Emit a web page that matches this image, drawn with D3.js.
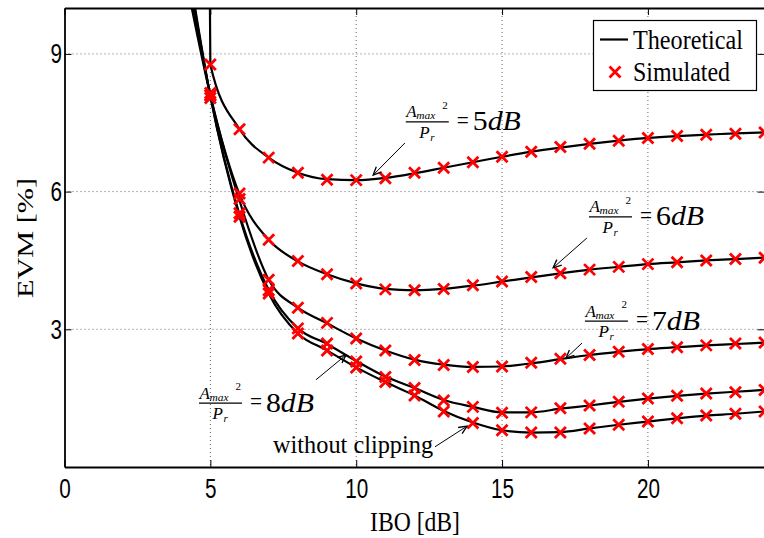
<!DOCTYPE html>
<html>
<head>
<meta charset="utf-8">
<script src="https://cdn.jsdelivr.net/npm/d3@7"></script>
<style>
  body { margin: 0; background: #fff; }
  svg { display: block; }
</style>
</head>
<body>
<div id="chart"></div>
<script>

// IBO values [dB] of the simulated points
var iboSim = [5, 6, 7, 8, 9, 10, 11, 12, 13, 14, 15, 16, 17, 18, 19, 20, 21, 22, 23, 24];

// simulated EVM [%], one list per clipping ratio Amax^2/Pr
var sim5dB    = [8.77, 7.36, 6.74, 6.41, 6.26, 6.25, 6.29, 6.41, 6.52, 6.64, 6.76, 6.87, 6.97, 7.04, 7.11, 7.17, 7.21, 7.24, 7.26, 7.29];
var sim6dB    = [8.10, 5.96, 4.95, 4.49, 4.20, 4.00, 3.87, 3.85, 3.88, 3.96, 4.04, 4.14, 4.22, 4.30, 4.36, 4.42, 4.46, 4.50, 4.53, 4.56];
var sim7dB    = [8.10, 5.84, 4.08, 3.47, 3.14, 2.80, 2.54, 2.33, 2.22, 2.18, 2.19, 2.27, 2.36, 2.44, 2.51, 2.57, 2.61, 2.65, 2.69, 2.71];
var sim8dB    = [8.04, 5.53, 3.85, 3.02, 2.69, 2.30, 1.96, 1.72, 1.45, 1.31, 1.18, 1.19, 1.28, 1.34, 1.42, 1.49, 1.55, 1.60, 1.63, 1.68];
var simNoClip = [8.15, 5.45, 3.78, 2.91, 2.54, 2.17, 1.85, 1.56, 1.21, 0.96, 0.80, 0.75, 0.75, 0.84, 0.92, 0.99, 1.06, 1.12, 1.16, 1.21];

// theoretical curves (they start above the top of the plot)
var iboTheory5dB = [4.98, 5, 6, 7, 8, 9, 10, 11, 12, 13, 14, 15, 16, 17, 18, 19, 20, 21, 22, 23, 24];
var iboTheory    = [4.3, 5, 6, 7, 8, 9, 10, 11, 12, 13, 14, 15, 16, 17, 18, 19, 20, 21, 22, 23, 24];
var theory5dB    = [10.5, 8.77, 7.36, 6.74, 6.41, 6.27, 6.25, 6.30, 6.40, 6.52, 6.64, 6.76, 6.87, 6.96, 7.04, 7.11, 7.17, 7.21, 7.24, 7.27, 7.29];
var theory6dB    = [10.2, 8.10, 5.94, 4.95, 4.48, 4.20, 4.00, 3.88, 3.85, 3.88, 3.95, 4.04, 4.13, 4.22, 4.30, 4.36, 4.42, 4.46, 4.50, 4.53, 4.56];
var theory7dB    = [10.4, 8.10, 5.80, 4.08, 3.47, 3.13, 2.80, 2.54, 2.34, 2.23, 2.18, 2.19, 2.26, 2.35, 2.44, 2.51, 2.57, 2.61, 2.65, 2.68, 2.71];
var theory8dB    = [10.6, 8.08, 5.50, 3.86, 3.02, 2.68, 2.31, 1.97, 1.72, 1.46, 1.31, 1.19, 1.19, 1.27, 1.34, 1.42, 1.49, 1.55, 1.60, 1.64, 1.68];
var theoryNoClip = [10.7, 8.08, 5.45, 3.78, 2.91, 2.54, 2.17, 1.85, 1.56, 1.22, 0.97, 0.80, 0.75, 0.76, 0.84, 0.92, 0.99, 1.06, 1.12, 1.16, 1.21];

// axis ticks
var xTicks = [0, 5, 10, 15, 20];
var yTicks = [3, 6, 9];

// annotation texts
var ratioLabels = ["5", "6", "7", "8"];
var legendLabels = ["Theoretical", "Simulated"];

var width = 764, height = 538;
var serif = "'Liberation Serif', 'Times New Roman', serif";
var sans = "'Liberation Sans', Arial, sans-serif";

var svg = d3.select("#chart")
  .append("svg")
  .attr("width", width)
  .attr("height", height)
  .style("background", "#fff");

var x = d3.scaleLinear().domain([0, 24]).range([64.5, 764.6]);
var y = d3.scaleLinear().domain([0, 10]).range([467, 8]);

// dotted grid
svg.append("g").selectAll("line")
  .data(xTicks.slice(1)).enter()
  .append("line")
  .attr("x1", function(d) { return x(d); })
  .attr("x2", function(d) { return x(d); })
  .attr("y1", y(10)).attr("y2", y(0))
  .attr("stroke", "#666").attr("stroke-width", 1).attr("stroke-dasharray", "1,3");
svg.append("g").selectAll("line")
  .data(yTicks).enter()
  .append("line")
  .attr("y1", function(d) { return y(d); })
  .attr("y2", function(d) { return y(d); })
  .attr("x1", x(0)).attr("x2", x(24))
  .attr("stroke", "#666").attr("stroke-width", 1).attr("stroke-dasharray", "1,3");

// axes, matlab style ticks pointing inside
var xAxis = svg.append("g")
  .attr("transform", "translate(0," + y(0) + ")")
  .call(d3.axisBottom(x).tickValues(xTicks).tickSizeInner(-7).tickSizeOuter(0).tickPadding(11));
var yAxis = svg.append("g")
  .attr("transform", "translate(" + x(0) + ",0)")
  .call(d3.axisLeft(y).tickValues(yTicks).tickSizeInner(-7).tickSizeOuter(0));
svg.append("g")
  .attr("transform", "translate(0," + y(10) + ")")
  .call(d3.axisTop(x).tickValues(xTicks).tickSizeInner(-7).tickSizeOuter(0).tickFormat(""));
svg.append("g")
  .attr("transform", "translate(" + x(24) + ",0)")
  .call(d3.axisRight(y).tickValues(yTicks).tickSizeInner(-7).tickSizeOuter(0).tickFormat(""));

svg.selectAll(".domain").attr("stroke", "#000").attr("stroke-width", 1.8);
svg.selectAll(".tick line").attr("stroke", "#000").attr("stroke-width", 1);

// tick labels are tall and narrow in the original
xAxis.selectAll("text")
  .style("font-family", sans).style("font-size", "28px").style("fill", "#000")
  .attr("transform", "scale(0.74,1)");
yAxis.selectAll("text")
  .style("font-family", sans).style("font-size", "28px").style("fill", "#000")
  .attr("x", -3.5)
  .attr("transform", "scale(0.74,1)");

// axis titles
svg.append("text")
  .attr("x", 370).attr("y", 531)
  .attr("textLength", 90).attr("lengthAdjust", "spacingAndGlyphs")
  .style("font-family", serif).style("font-size", "27px")
  .text("IBO [dB]");

var yTitle = svg.append("text")
  .attr("transform", "translate(33,238) rotate(-90)")
  .attr("text-anchor", "middle")
  .attr("textLength", 120).attr("lengthAdjust", "spacingAndGlyphs")
  .style("font-family", serif).style("font-size", "24px");
yTitle.append("tspan").text("EVM");
yTitle.append("tspan").text(" [%]");

// curves
svg.append("clipPath").attr("id", "plotArea")
  .append("rect")
  .attr("x", x(0)).attr("y", y(10))
  .attr("width", x(24) - x(0)).attr("height", y(0) - y(10));

var theoryLines = [
  [iboTheory5dB, theory5dB],
  [iboTheory, theory6dB],
  [iboTheory, theory7dB],
  [iboTheory, theory8dB],
  [iboTheory, theoryNoClip]
];
var simSets = [sim5dB, sim6dB, sim7dB, sim8dB, simNoClip];

var line = d3.line()
  .x(function(d) { return x(d[0]); })
  .y(function(d) { return y(d[1]); })
  .curve(d3.curveMonotoneX);

svg.append("g")
  .attr("clip-path", "url(#plotArea)")
  .selectAll("path")
  .data(theoryLines).enter()
  .append("path")
  .attr("d", function(t) { return line(d3.zip(t[0], t[1])); })
  .attr("fill", "none")
  .attr("stroke", "#000")
  .attr("stroke-width", 2.2);

// red crosses for the simulated points
var s = 5.5;
var crossPath = "M" + (-s) + "," + (-s) + "L" + s + "," + s + "M" + (-s) + "," + s + "L" + s + "," + (-s);
var simPoints = [];
simSets.forEach(function(vals) {
  vals.forEach(function(v, i) { simPoints.push([iboSim[i], v]); });
});
svg.append("g").selectAll("path")
  .data(simPoints).enter()
  .append("path")
  .attr("transform", function(d) { return "translate(" + x(d[0]) + "," + y(d[1]) + ")"; })
  .attr("d", crossPath)
  .attr("stroke", "#ff0000")
  .attr("stroke-width", 2.8)
  .attr("fill", "none");

// legend
var legend = svg.append("g");
legend.append("rect")
  .attr("x", 593.5).attr("y", 20.5).attr("width", 163).attr("height", 70)
  .attr("fill", "#fff").attr("stroke", "#000").attr("stroke-width", 1.2);
legend.append("line")
  .attr("x1", 600).attr("x2", 628).attr("y1", 39.5).attr("y2", 39.5)
  .attr("stroke", "#000").attr("stroke-width", 2.2);
legend.append("path")
  .attr("transform", "translate(615,72)")
  .attr("d", crossPath)
  .attr("stroke", "#ff0000").attr("stroke-width", 2.8);
legend.selectAll("text")
  .data(legendLabels).enter()
  .append("text")
  .attr("x", 633)
  .attr("y", function(d, i) { return 49 + i * 32; })
  .attr("textLength", function(d, i) { return i == 0 ? 110 : 97; })
  .attr("lengthAdjust", "spacingAndGlyphs")
  .style("font-family", serif).style("font-size", "27px")
  .text(function(d) { return d; });

// Amax^2 / Pr = N dB labels
function ratioLabel(px, py, value) {
  var g = svg.append("g")
    .attr("transform", "translate(" + px + "," + py + ")")
    .style("font-family", serif).style("fill", "#000");
  g.append("line")
    .attr("x1", 0).attr("x2", 43).attr("y1", 0).attr("y2", 0)
    .attr("stroke", "#000").attr("stroke-width", 1.3);
  g.append("text").attr("x", 0.5).attr("y", -4.5)
    .style("font-style", "italic").style("font-size", "17px").text("A");
  g.append("text").attr("x", 10.5).attr("y", -2.5)
    .attr("textLength", 19).attr("lengthAdjust", "spacingAndGlyphs")
    .style("font-style", "italic").style("font-size", "11px").text("max");
  g.append("text").attr("x", 36.5).attr("y", -13)
    .style("font-size", "11px").text("2");
  g.append("text").attr("x", 13.5).attr("y", 16)
    .style("font-style", "italic").style("font-size", "17px").text("P");
  g.append("text").attr("x", 24.5).attr("y", 19)
    .style("font-style", "italic").style("font-size", "11px").text("r");
  g.append("text").attr("x", 51).attr("y", 7)
    .attr("textLength", 12).attr("lengthAdjust", "spacingAndGlyphs")
    .style("font-size", "26px").text("=");
  var t = g.append("text").attr("x", 67).attr("y", 8.5)
    .attr("textLength", 48).attr("lengthAdjust", "spacingAndGlyphs")
    .style("font-size", "28px");
  t.append("tspan").text(value);
  t.append("tspan").style("font-style", "italic").text("dB");
}
ratioLabel(x(11.7), y(7.52), ratioLabels[0]);
ratioLabel(x(17.98), y(5.45), ratioLabels[1]);
ratioLabel(x(17.84), y(3.18), ratioLabels[2]);
ratioLabel(x(4.61), y(1.39), ratioLabels[3]);

svg.append("text")
  .attr("x", x(7.15)).attr("y", y(0.31))
  .attr("textLength", 160).attr("lengthAdjust", "spacingAndGlyphs")
  .style("font-family", serif).style("font-size", "26px")
  .text("without clipping");

// arrows pointing at the curves, [from, to] in data units
var arrows = [
  [[11.67, 7.06], [10.58, 6.36]],
  [[17.91, 4.99], [16.75, 4.34]],
  [[17.74, 2.70], [17.19, 2.37]],
  [[8.62, 1.90], [9.65, 2.44]],
  [[12.70, 0.44], [13.80, 0.89]]
];
arrows.forEach(function(a) {
  var x1 = x(a[0][0]), y1 = y(a[0][1]), x2 = x(a[1][0]), y2 = y(a[1][1]);
  var ang = Math.atan2(y2 - y1, x2 - x1), len = 9, spread = 0.42;
  svg.append("line")
    .attr("x1", x1).attr("y1", y1).attr("x2", x2).attr("y2", y2)
    .attr("stroke", "#000").attr("stroke-width", 1);
  svg.append("path")
    .attr("d", "M" + (x2 - len * Math.cos(ang - spread)) + "," + (y2 - len * Math.sin(ang - spread)) +
      "L" + x2 + "," + y2 +
      "L" + (x2 - len * Math.cos(ang + spread)) + "," + (y2 - len * Math.sin(ang + spread)))
    .attr("fill", "none").attr("stroke", "#000").attr("stroke-width", 1.3);
});

</script>
</body>
</html>
